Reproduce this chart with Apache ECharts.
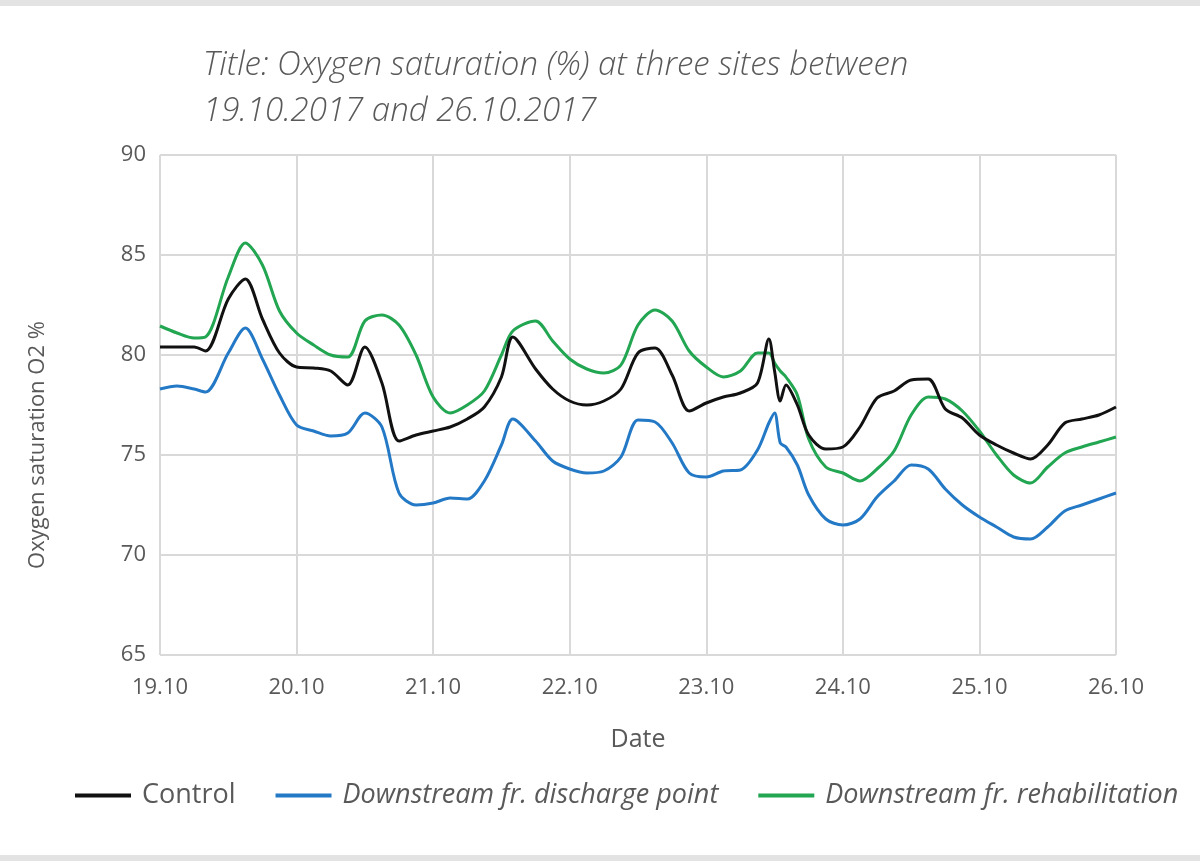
<!DOCTYPE html>
<html>
<head>
<meta charset="utf-8">
<script src="https://cdn.jsdelivr.net/npm/echarts@6/dist/echarts.min.js"></script>
<style>
  html, body { margin: 0; padding: 0; background: #fff; }
  #chart { width: 1200px; height: 866px; }
</style>
</head>
<body>
<div id="chart"></div>
<script>
// hours since 19.10.2017 00:00
const hours = [0, 3, 6, 8, 12, 15, 18, 21, 24, 27, 30, 33, 36, 39, 42, 45, 48, 51, 54, 57, 60, 62,
  66, 69, 72, 75, 78, 81, 84, 87, 90, 93, 96, 99, 102, 105, 107, 108, 109, 110, 112, 114, 117,
  120, 123, 126, 129, 132, 135, 138, 141, 144, 147, 150, 153, 156, 159, 162, 165, 168];

const control = [80.4, 80.4, 80.4, 80.2, 82.8, 83.8, 81.8, 80.1, 79.4, 79.35, 79.2, 78.5, 80.4, 78.6,
  75.7, 76.0, 76.2, 76.4, 76.8, 77.4, 78.9, 80.9,
  79.3, 78.3, 77.7, 77.5, 77.7, 78.3, 80.1, 80.35, 79.0, 77.2, 77.6, 77.9, 78.1, 78.6, 80.8, 79.2,
  77.7, 78.5, 77.5, 76.0, 75.3,
  75.4, 76.4, 77.85, 78.2, 78.75, 78.8, 77.3, 76.85, 76.0, 75.5, 75.1, 74.8, 75.5, 76.6, 76.8, 77.0, 77.4];

const discharge = [78.3, 78.45, 78.3, 78.15, 80.1, 81.35, 79.8, 78.0, 76.5, 76.2, 75.95, 76.1, 77.1, 76.4,
  73.1, 72.5, 72.6, 72.85, 72.8, 73.7, 75.5, 76.8,
  75.7, 74.7, 74.3, 74.1, 74.2, 74.9, 76.75, 76.65, 75.6, 74.1, 73.9, 74.2, 74.25, 75.25, 76.6, 77.1,
  75.6, 75.4, 74.5, 73.0, 71.8,
  71.5, 71.8, 72.9, 73.7, 74.5, 74.3, 73.3, 72.5, 71.9, 71.4, 70.9, 70.8, 71.4, 72.2, 72.5, 72.8, 73.1];

const rehabilitation = [81.45, 81.1, 80.85, 80.9, 83.9, 85.6, 84.5, 82.2, 81.1, 80.5, 80.0, 79.9, 81.7, 82.0,
  81.5, 80.0, 77.9, 77.1, 77.5, 78.2, 80.0, 81.2,
  81.7, 80.7, 79.8, 79.3, 79.1, 79.5, 81.5, 82.25, 81.7, 80.2, 79.4, 78.9, 79.2, 80.1, 80.1, 79.6,
  79.2, 78.9, 78.0, 75.8, 74.4,
  74.1, 73.7, 74.3, 75.2, 77.0, 77.9, 77.8, 77.2, 76.2, 75.0, 74.0, 73.6, 74.4, 75.1, 75.4, 75.65, 75.9];

const dateLabels = ['19.10', '20.10', '21.10', '22.10', '23.10', '24.10', '25.10', '26.10'];
const seriesNames = ['Control', 'Downstream fr. discharge point', 'Downstream fr. rehabilitation'];

const FONT = '"Open Sans", sans-serif';
const GREY = '#595959';

const pairs = (vals) => hours.map((h, i) => [h, vals[i]]);

const chart = echarts.init(document.getElementById('chart'));

chart.setOption({
  animation: false,
  title: {
    text: 'Title: Oxygen saturation (%) at three sites between\n19.10.2017 and 26.10.2017',
    left: 198,
    top: 38,
    textStyle: {
      fontFamily: FONT,
      fontStyle: 'italic',
      fontWeight: 300,
      fontSize: 33,
      lineHeight: 46,
      color: GREY
    }
  },
  grid: { left: 160, right: 84, top: 155, bottom: 211 },
  legend: {
    bottom: 52,
    left: 70,
    itemWidth: 56,
    itemHeight: 4,
    itemGap: 40,
    icon: 'rect',
    data: seriesNames,
    formatter: (name) => name === 'Control' ? name : '{i|' + name + '}',
    textStyle: {
      fontFamily: FONT,
      fontSize: 27,
      color: GREY,
      padding: [0, 0, 0, 6],
      rich: { i: { fontFamily: FONT, fontSize: 27, fontStyle: 'italic', color: GREY } }
    }
  },
  xAxis: {
    type: 'value',
    min: 0,
    max: 168,
    interval: 24,
    name: 'Date',
    nameLocation: 'middle',
    nameGap: 72,
    nameTextStyle: { fontFamily: FONT, fontSize: 25, color: GREY },
    axisLine: { show: false },
    axisTick: { show: false },
    axisLabel: {
      margin: 22,
      fontFamily: FONT,
      fontSize: 22,
      color: GREY,
      formatter: (v) => dateLabels[Math.round(v / 24)]
    },
    splitLine: { show: true, lineStyle: { color: '#d9d9d9', width: 2 } }
  },
  yAxis: {
    type: 'value',
    min: 65,
    max: 90,
    interval: 5,
    axisLine: { show: false },
    axisTick: { show: false },
    axisLabel: { margin: 14, fontFamily: FONT, fontSize: 22, color: GREY },
    splitLine: { show: true, lineStyle: { color: '#d9d9d9', width: 2 } }
  },
  graphic: [
    {
      type: 'text',
      x: 38,
      y: 445,
      rotation: Math.PI / 2,
      style: {
        text: 'Oxygen saturation O2 %',
        fontFamily: FONT,
        fontSize: 22,
        fill: GREY,
        align: 'center',
        verticalAlign: 'middle'
      }
    },
    { type: 'rect', shape: { x: 0, y: 0, width: 1200, height: 6 }, style: { fill: '#e3e3e3' } },
    { type: 'rect', shape: { x: 0, y: 855, width: 1200, height: 6 }, style: { fill: '#e3e3e3' } }
  ],
  series: [
    {
      name: seriesNames[0], type: 'line', data: pairs(control), showSymbol: false, smooth: 0.3,
      lineStyle: { color: '#111111', width: 3 }, itemStyle: { color: '#111111' }, z: 4
    },
    {
      name: seriesNames[1], type: 'line', data: pairs(discharge), showSymbol: false, smooth: 0.3,
      lineStyle: { color: '#2479c6', width: 3 }, itemStyle: { color: '#2479c6' }, z: 2
    },
    {
      name: seriesNames[2], type: 'line', data: pairs(rehabilitation), showSymbol: false, smooth: 0.3,
      lineStyle: { color: '#22a651', width: 3 }, itemStyle: { color: '#22a651' }, z: 3
    }
  ]
});

window.onresize = function () {
  chart.resize();
};
</script>
</body>
</html>
